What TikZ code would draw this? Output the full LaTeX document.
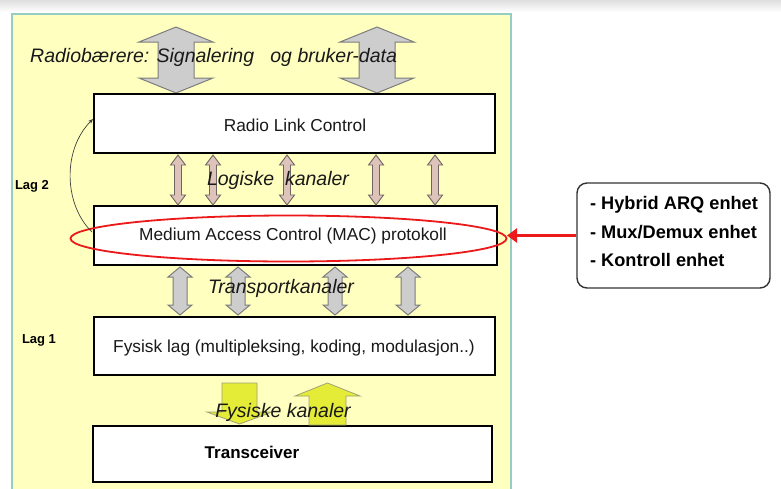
\documentclass[tikz,border=0pt]{standalone}
\usepackage{fontspec}
\setmainfont{Liberation Sans}
\usetikzlibrary{arrows.meta,shapes.geometric}

\definecolor{panelyellow}{RGB}{255,255,192}
\definecolor{paneledge}{RGB}{150,205,195}
\definecolor{logfill}{RGB}{222,195,186}
\definecolor{logedge}{RGB}{110,100,100}
\definecolor{trfill}{RGB}{205,205,205}
\definecolor{tredge}{RGB}{125,125,125}
\definecolor{physfill}{RGB}{228,236,55}
\definecolor{physedge}{RGB}{160,160,120}
\definecolor{macred}{RGB}{235,25,25}
\definecolor{inktext}{RGB}{25,25,25}

% vertical double block arrow: style, x, y top, y bottom, shaft half width, head half width, head length
\newcommand{\blockdarrow}[7]{%
  \draw[#1] (#2-#5,#3+#7) -- (#2-#6,#3+#7) -- (#2,#3) -- (#2+#6,#3+#7) -- (#2+#5,#3+#7)
    -- (#2+#5,#4-#7) -- (#2+#6,#4-#7) -- (#2,#4) -- (#2-#6,#4-#7) -- (#2-#5,#4-#7) -- cycle;}

\tikzset{
  layerbox/.style={draw=black, line width=2pt, fill=white, inner sep=0pt},
  boxtext/.style={text=inktext, font=\fontsize{17.3}{19}\selectfont},
  chanlabel/.style={text=inktext, font=\fontsize{19.5}{22}\selectfont\itshape, inner sep=0pt},
  laglabel/.style={text=black, font=\fontsize{13}{15}\selectfont\bfseries, inner sep=0pt},
  toparrow/.style={fill=trfill, draw=tredge, line width=1pt},
  logarrow/.style={fill=logfill, draw=logedge, line width=0.9pt},
  trarrow/.style={fill=trfill, draw=tredge, line width=1pt},
  physarrow/.style={fill=physfill, draw=physedge, line width=0.8pt},
}

\begin{document}
\begin{tikzpicture}[x=1pt,y=-1pt]
\useasboundingbox (0,0) rectangle (781,488);
\fill[white] (0,0) rectangle (781,488);
\shade[top color=black!13, bottom color=white] (0,0) rectangle (781,12);

% background panel
\draw[fill=panelyellow, draw=paneledge, line width=1.2pt] (12,14) rectangle (511,494);

% radio bearers
\blockdarrow{toparrow}{176}{27}{93}{18}{37}{15}
\blockdarrow{toparrow}{377}{27}{93}{18}{37}{15}

% layer boxes
\node[layerbox, minimum width=401pt, minimum height=59pt] (rlc) at (294.5,123.5) {};
\node[layerbox, minimum width=403pt, minimum height=59pt] (mac) at (295.5,235.5) {};
\node[layerbox, minimum width=401pt, minimum height=58pt] (phy) at (294.5,346) {};
\node[layerbox, minimum width=399pt, minimum height=56pt] (trx) at (292.5,454) {};

% logical channels
\blockdarrow{logarrow}{178}{155}{205}{3.5}{7.5}{10}
\blockdarrow{logarrow}{213}{155}{205}{3.5}{7.5}{10}
\blockdarrow{logarrow}{287}{155}{205}{3.5}{7.5}{10}
\blockdarrow{logarrow}{376}{155}{205}{3.5}{7.5}{10}
\blockdarrow{logarrow}{435}{155}{205}{3.5}{7.5}{10}

% transport channels
\blockdarrow{trarrow}{180}{267}{315}{7}{12}{10}
\blockdarrow{trarrow}{238}{267}{315}{7}{12}{10}
\blockdarrow{trarrow}{335}{267}{315}{7}{12}{10}
\blockdarrow{trarrow}{408}{267}{315}{7}{12}{10}

% physical channels
\draw[physarrow] (222,383) -- (257,383) -- (257,412) -- (272,412) -- (239.5,424)
  -- (207,412) -- (222,412) -- cycle;
\draw[physarrow] (309,425) -- (309,396) -- (295,396) -- (327.5,383) -- (360,396)
  -- (346,396) -- (346,425) -- cycle;

% box texts
\node[boxtext] (rlct) at (295,125) {Radio Link Control};
\node[boxtext] (mact) at (293,236) {Medium Access Control (MAC) protokoll};
\node[boxtext] (phyt) at (294,348) {Fysisk lag (multipleksing, koding, modulasjon..)};
\node[text=black, font=\fontsize{17}{19}\selectfont\bfseries] (trxt) at (252,452) {Transceiver};

% MAC highlight ring
\node[draw=macred, line width=1.8pt, ellipse, minimum width=436pt, minimum height=46pt,
      inner sep=0pt] (ring) at (288.5,238.5) {};

% layer 2 loop arrow
\coordinate (loopstart) at (92,232);
\coordinate (loopend) at (93,119);
\draw[line width=0.7pt, black!75, -{Stealth[length=5pt,width=4pt]}] (loopstart)
  .. controls (64,205) and (62,150) .. (loopend);

% channel labels
\node[chanlabel, anchor=west] (rbtxt) at (30,57) {Radiobærere: Signalering\ \ \ og bruker-data};
\node[chanlabel] (logtxt) at (278,180) {Logiske\ \ kanaler};
\node[chanlabel] (trtxt) at (281,288) {Transportkanaler};
\node[chanlabel] (phtxt) at (283,412) {Fysiske kanaler};

\node[laglabel] (lag2) at (32,186) {Lag 2};
\node[laglabel] (lag1) at (39,340) {Lag 1};

% MAC functions
\node[draw=black!80, line width=1.4pt, rounded corners=10pt, fill=white,
      minimum width=193pt, minimum height=105pt] (info) at (673.5,235.5) {};
\node[align=left, font=\fontsize{18.2}{28.5}\selectfont\bfseries, text=black,
      inner sep=0pt] (infotxt) at (674,231.5)
  {- Hybrid ARQ enhet\\- Mux/Demux enhet\\- Kontroll enhet};
\coordinate (hit) at (507,235.5);
\draw[macred, line width=2.4pt, -{Triangle[length=10pt,width=14pt]}] (info.west) -- (hit);
\end{tikzpicture}
\end{document}
